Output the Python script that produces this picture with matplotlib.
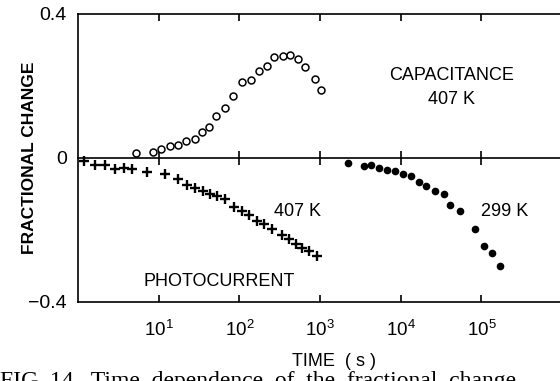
import numpy as np
import matplotlib
matplotlib.use("Agg")
import matplotlib.pyplot as plt
from matplotlib.ticker import FixedLocator, NullLocator, FuncFormatter

plt.rcParams['font.family'] = ['Liberation Sans', 'DejaVu Sans']
plt.rcParams['mathtext.fontset'] = 'custom'
plt.rcParams['mathtext.rm'] = 'Liberation Sans'
plt.rcParams['mathtext.it'] = 'Liberation Sans'

# Capacitance transient at 407 K (open circles)
cap_time = [5.24, 8.38, 10.7, 14.0, 17.5, 22.0, 28.1, 34.4, 42.5, 52.0, 65.8, 84.5,
            108, 139, 175, 220, 270, 344, 426, 532, 658, 865, 1038]
cap_change = [0.013, 0.018, 0.025, 0.032, 0.036, 0.048, 0.054, 0.071, 0.087, 0.118,
              0.139, 0.173, 0.212, 0.218, 0.243, 0.256, 0.281, 0.282, 0.285, 0.276,
              0.254, 0.220, 0.189]

# Photocurrent transient at 407 K (crosses)
pc_time = [1.18, 1.63, 2.17, 2.89, 3.68, 4.67, 7.10, 11.9, 17.2, 22.2, 27.9, 35.1,
           43.7, 53.1, 67.1, 85.0, 107, 130, 164, 200, 251, 334, 408, 499, 600,
           733, 908]
pc_change = [-0.009, -0.019, -0.019, -0.031, -0.029, -0.031, -0.038, -0.044, -0.058,
             -0.074, -0.082, -0.092, -0.100, -0.106, -0.115, -0.135, -0.146, -0.158,
             -0.174, -0.183, -0.197, -0.215, -0.225, -0.238, -0.249, -0.258, -0.271]

# Photocurrent transient at 299 K (filled dots)
pc299_time = [2218, 3470, 4275, 5430, 6820, 8570, 10560, 13530, 16670, 20640, 26300,
              34000, 41300, 54000, 84000, 107000, 135000, 169000]
pc299_change = [-0.015, -0.023, -0.019, -0.029, -0.033, -0.037, -0.044, -0.049, -0.066,
                -0.077, -0.093, -0.101, -0.131, -0.148, -0.198, -0.244, -0.265, -0.299]

decades = [10, 100, 1000, 1e4, 1e5]
y_ticks = [-0.4, 0.0, 0.4]
y_tick_labels = ['\u22120.4', '0', '0.4']

fig = plt.figure(figsize=(5.6, 3.81), dpi=100)
ax = fig.add_axes([78 / 560, 1 - 302 / 381, (560 - 78) / 560, (302 - 14) / 381])
ax.set_xscale('log')
ax.set_xlim(1, 10 ** 5.973)
ax.set_ylim(-0.4, 0.4)

ax.plot(cap_time, cap_change, linestyle='none', marker='o', ms=5.0,
        mfc='white', mec='black', mew=1.1)
ax.plot(pc_time, pc_change, linestyle='none', marker='+', ms=6.5,
        color='black', mew=1.7)
ax.plot(pc299_time, pc299_change, linestyle='none', marker='o', ms=4.5,
        color='black')

for s in ['left', 'top', 'bottom']:
    ax.spines[s].set_linewidth(1.2)
ax.spines['right'].set_visible(False)

ax.xaxis.set_major_locator(FixedLocator(decades))
ax.xaxis.set_minor_locator(NullLocator())
ax.xaxis.set_major_formatter(FuncFormatter(
    lambda v, p: r'$\mathrm{10}^{%d}$' % round(np.log10(v))))
ax.tick_params(axis='x', which='major', direction='in', top=True, bottom=True,
               length=5, width=1.2, labelsize=13.5, pad=13)

ax.yaxis.set_major_locator(FixedLocator(y_ticks))
ax.set_yticklabels(y_tick_labels)
ax.tick_params(axis='y', length=0, labelsize=14, pad=8)

# zero line with ticks crossing it
zero = ax.secondary_xaxis(0.5)
for s in zero.spines.values():
    s.set_linewidth(1.2)
zero.xaxis.set_major_locator(FixedLocator(decades))
zero.xaxis.set_minor_locator(NullLocator())
zero.xaxis.set_major_formatter(FuncFormatter(lambda v, p: ''))
zero.tick_params(axis='x', which='major', direction='inout', length=10, width=1.2,
                 labelbottom=False, labeltop=False)

ax.set_ylabel('FRACTIONAL CHANGE', fontsize=12.5, fontweight='bold')
ax.yaxis.set_label_coords(-0.085, 0.5)


def place(x, y, s, **kw):
    fig.text(x / 560, 1 - y / 381, s, ha='center', va='center', fontsize=13, **kw)


place(452, 75, 'CAPACITANCE')
place(451, 99, '407 K')
place(297, 211, '407 K')
place(505, 211, '299 K')
place(219, 281, 'PHOTOCURRENT')
place(334, 362, 'TIME  ( s )')
fig.text(0.0, 1 - 371 / 381, 'FIG. 14.  Time  dependence  of  the  fractional  change',
         family='Liberation Serif', fontsize=17, ha='left', va='top')

fig.savefig('out.png', dpi=100)
